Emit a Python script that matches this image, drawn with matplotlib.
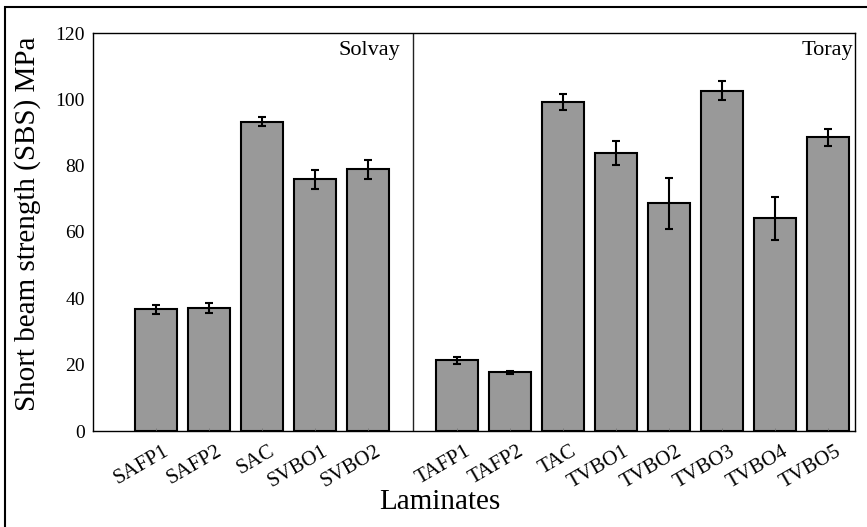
import numpy as np
import matplotlib
matplotlib.use("Agg")
import matplotlib.pyplot as plt
import matplotlib.transforms as mtransforms
from matplotlib.patches import Rectangle

# ---- dados ----
solvay_labels = ["SAFP1", "SAFP2", "SAC", "SVBO1", "SVBO2"]
solvay_sbs = [36.7, 37.1, 93.3, 75.9, 78.9]
solvay_err = [1.4, 1.6, 1.4, 2.8, 2.8]

toray_labels = ["TAFP1", "TAFP2", "TAC", "TVBO1", "TVBO2", "TVBO3", "TVBO4", "TVBO5"]
toray_sbs = [21.3, 17.7, 99.2, 83.7, 68.6, 102.6, 64.1, 88.5]
toray_err = [1.0, 0.5, 2.3, 3.6, 7.7, 2.8, 6.6, 2.5]

y_ticks = [0, 20, 40, 60, 80, 100, 120]

plt.rcParams['font.family'] = ['Liberation Serif', 'DejaVu Serif']

# posicoes das barras (dois grupos com um pequeno intervalo)
x_s = np.arange(len(solvay_labels))
x_t = np.arange(len(toray_labels)) + len(solvay_labels) + 0.68
x_div = len(solvay_labels) - 0.15

fig = plt.figure(figsize=(8.67, 5.27), dpi=100)
ax = fig.add_axes([93/867, 1 - 431/527, (855 - 93)/867, (431 - 33)/527])

bar_kw = dict(width=0.8, color='#999999', edgecolor='black', linewidth=1.5,
              error_kw=dict(ecolor='black', elinewidth=1.5, capsize=3, capthick=1.5))
ax.bar(x_s, solvay_sbs, yerr=solvay_err, **bar_kw)
ax.bar(x_t, toray_sbs, yerr=toray_err, **bar_kw)

# linha divisoria entre fabricantes
ax.axvline(x_div, color='#222222', linewidth=1.0)

ax.text(x_div - 0.25, 117.5, 'Solvay', ha='right', va='top', fontsize=16)
ax.text(13.15, 117.5, 'Toray', ha='right', va='top', fontsize=16)

ax.set_xlim(-1.19, 13.19)
ax.set_ylim(0, 120)
ax.set_yticks(y_ticks)
ax.set_xticks(np.concatenate([x_s, x_t]))
ax.set_xticklabels(solvay_labels + toray_labels, rotation=30, ha='right',
                   rotation_mode='anchor', fontsize=15)
ax.tick_params(axis='x', direction='in', length=2, width=0.6, color='#777777', pad=8)
ax.tick_params(axis='y', direction='in', length=0, labelsize=14, pad=6)

# desloca os rotulos um pouco para a direita
offset = mtransforms.ScaledTranslation(7/100, 0, fig.dpi_scale_trans)
for lbl in ax.get_xticklabels():
    lbl.set_transform(lbl.get_transform() + offset)

for s in ax.spines.values():
    s.set_linewidth(1.0)

ax.set_xlabel('Laminates', fontsize=21)
ax.xaxis.set_label_coords((440 - 93)/762, -0.145)
ax.set_ylabel('Short beam strength (SBS) MPa', fontsize=21)
ax.yaxis.set_label_coords(-0.068, 0.52)

# moldura externa da figura
fig.patches.append(Rectangle((5/867, -0.2), 1.2, 1 - 7/527 + 0.2, transform=fig.transFigure,
                             fill=False, edgecolor='black', linewidth=1.5))

fig.savefig('out.png', dpi=100)
